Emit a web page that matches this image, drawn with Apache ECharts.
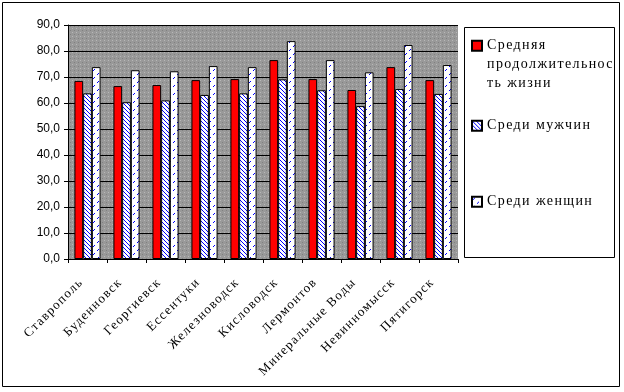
<!DOCTYPE html>
<html>
<head>
<meta charset="utf-8">
<script src="https://cdn.jsdelivr.net/npm/echarts@6/dist/echarts.min.js"></script>
<style>html,body{margin:0;padding:0;background:#fff;}#c{width:624px;height:392px;}</style>
</head>
<body>
<div id="c"></div>
<script>
var categories = ['Ставрополь','Буденновск','Георгиевск','Ессентуки','Железноводск','Кисловодск','Лермонтов','Минеральные Воды','Невинномысск','Пятигорск'];
var avgLife = [68.5, 66.5, 66.9, 68.8, 69.2, 76.5, 69.2, 65.0, 73.8, 68.8];
var men = [63.7, 60.3, 61.0, 63.1, 63.7, 69.1, 64.9, 58.8, 65.4, 63.5];
var women = [73.8, 72.6, 72.2, 74.2, 73.8, 83.8, 76.5, 71.8, 82.3, 74.6];
var seriesNames = ['Средняя продолжительность жизни','Среди мужчин','Среди женщин'];

// letter spacing for selected fonts (marker family names)
(function(){
  var P = CanvasRenderingContext2D.prototype;
  function sp(ctx){
    var f = ctx.font || '';
    if (f.indexOf('lgspc') >= 0) return '1.4px';
    if (f.indexOf('xlspc') >= 0) return '1.3px';
    return '0px';
  }
  var of = P.fillText, om = P.measureText;
  P.fillText = function(t,x,y,mw){
    this.letterSpacing = sp(this);
    var r = (mw === undefined) ? of.call(this,t,x,y) : of.call(this,t,x,y,mw);
    this.letterSpacing = '0px';
    return r;
  };
  P.measureText = function(t){
    this.letterSpacing = sp(this);
    var r = om.call(this,t);
    this.letterSpacing = '0px';
    return r;
  };
})();

function makeCanvas(w,h){var c=document.createElement('canvas');c.width=w;c.height=h;return c;}
var mc = makeCanvas(4,4), mx = mc.getContext('2d');
mx.fillStyle='#fff'; mx.fillRect(0,0,4,4);
mx.fillStyle='#0000ff';
for (var i=0;i<4;i++){ mx.fillRect(i,i,1,1); }
var fc = makeCanvas(8,8), fx = fc.getContext('2d');
fx.fillStyle='#fff'; fx.fillRect(0,0,8,8);
fx.fillStyle='#0000ff';
fx.fillRect(2,1,1,1); fx.fillRect(1,2,1,1);
fx.fillRect(6,5,1,1); fx.fillRect(5,6,1,1);
var gc = makeCanvas(4,4), gx = gc.getContext('2d');
gx.fillStyle='#999999'; gx.fillRect(0,0,4,4);
gx.fillStyle='#b8b8b8'; gx.fillRect(0,0,1,1);
gx.fillStyle='#808080'; gx.fillRect(2,2,1,1);

var chart = echarts.init(document.getElementById('c'));
var legFont = '"Liberation Serif", lgspc';
var xFont = '"Liberation Serif", xlspc';
var legText = {fontFamily:legFont,fontSize:14,color:'#000'};
chart.setOption({
  animation:false,
  backgroundColor:'#fff',
  grid:{left:68,right:166,top:25,bottom:133,show:true,backgroundColor:{image:gc,repeat:'repeat'},borderWidth:0},
  xAxis:{type:'category',data:categories,
    axisLine:{lineStyle:{color:'#000',width:1}},
    axisTick:{show:true,length:4,lineStyle:{color:'#000'}},
    axisLabel:{rotate:45,fontFamily:xFont,fontSize:13,color:'#000',margin:15,interval:0,padding:[0,9,0,0]}},
  yAxis:{type:'value',min:0,max:90,interval:10,
    axisLine:{show:true,lineStyle:{color:'#000',width:1}},
    axisTick:{show:true,length:4,lineStyle:{color:'#000'}},
    splitLine:{show:true,lineStyle:{color:'#000',width:1}},
    axisLabel:{fontFamily:'Liberation Sans',fontSize:12,color:'#000',margin:8,
      formatter:function(v){return v.toFixed(1).replace('.',',');}}},
  legend:[
    {left:466,top:33,itemWidth:10,itemHeight:10,icon:'rect',data:[seriesNames[0]],
     formatter:function(){return 'Средняя';}, textStyle:legText},
    {left:466,top:113,itemWidth:10,itemHeight:10,icon:'rect',data:[seriesNames[1]], textStyle:legText},
    {left:466,top:189,itemWidth:10,itemHeight:10,icon:'rect',data:[seriesNames[2]], textStyle:legText}
  ],
  graphic:[
    {type:'rect',shape:{x:2.5,y:2.5,width:617,height:384},style:{fill:null,stroke:'#000',lineWidth:1},silent:true,z:-1},
    {type:'rect',shape:{x:464.5,y:27.5,width:150,height:230},style:{fill:null,stroke:'#000',lineWidth:1},silent:true},
    {type:'text',left:487,top:55,style:{text:'продолжительнос\nть жизни',font:'14px "Liberation Serif", lgspc',fill:'#000',lineHeight:19}}
  ],
  series:[
    {name:seriesNames[0],type:'bar',data:avgLife,barGap:'0%',barCategoryGap:'33%',
     itemStyle:{color:'#ff0000',borderColor:'#000',borderWidth:1}},
    {name:seriesNames[1],type:'bar',data:men,
     itemStyle:{color:{image:mc,repeat:'repeat'},borderColor:'#000',borderWidth:1}},
    {name:seriesNames[2],type:'bar',data:women,
     itemStyle:{color:{image:fc,repeat:'repeat'},borderColor:'#000',borderWidth:1}}
  ]
});
</script>
</body>
</html>
